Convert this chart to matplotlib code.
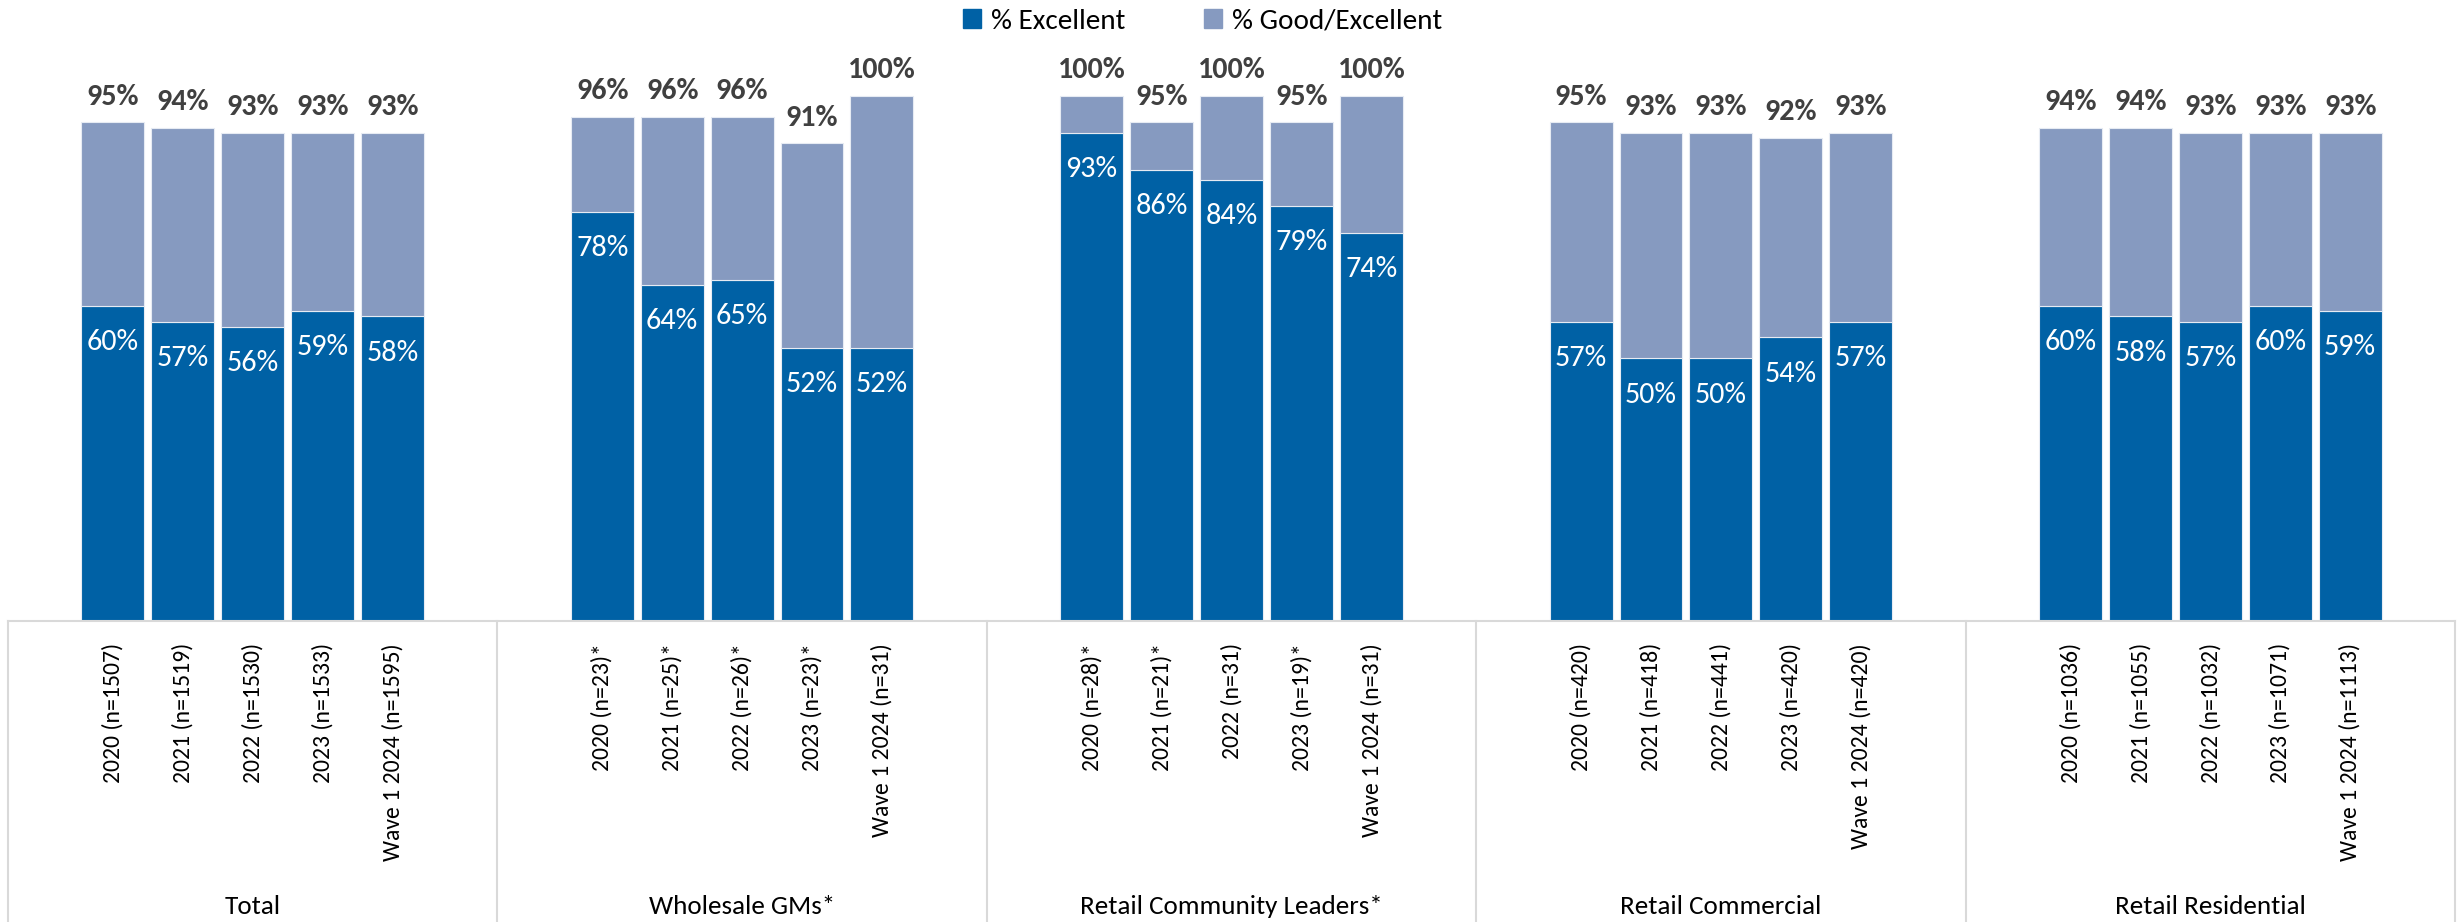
import numpy as np
import matplotlib
matplotlib.use("Agg")
import matplotlib.pyplot as plt
from matplotlib.patches import Patch
from matplotlib import font_manager

# Groupes et vagues d'enquête
groupes = ["Total", "Wholesale GMs*", "Retail Community Leaders*",
           "Retail Commercial", "Retail Residential"]

etiquettes = [
    ["2020 (n=1507)", "2021 (n=1519)", "2022 (n=1530)", "2023 (n=1533)", "Wave 1 2024 (n=1595)"],
    ["2020 (n=23)*", "2021 (n=25)*", "2022 (n=26)*", "2023 (n=23)*", "Wave 1 2024 (n=31)"],
    ["2020 (n=28)*", "2021 (n=21)*", "2022 (n=31)", "2023 (n=19)*", "Wave 1 2024 (n=31)"],
    ["2020 (n=420)", "2021 (n=418)", "2022 (n=441)", "2023 (n=420)", "Wave 1 2024 (n=420)"],
    ["2020 (n=1036)", "2021 (n=1055)", "2022 (n=1032)", "2023 (n=1071)", "Wave 1 2024 (n=1113)"],
]

# % Excellent
excellent = [
    [60, 57, 56, 59, 58],
    [78, 64, 65, 52, 52],
    [93, 86, 84, 79, 74],
    [57, 50, 50, 54, 57],
    [60, 58, 57, 60, 59],
]

# % Good/Excellent (total)
bon_excellent = [
    [95, 94, 93, 93, 93],
    [96, 96, 96, 91, 100],
    [100, 95, 100, 95, 100],
    [95, 93, 93, 92, 93],
    [94, 94, 93, 93, 93],
]

BLEU = "#0061A5"
BLEU_CLAIR = "#869AC0"
GRIS_TEXTE = "#404040"
GRIS_LIGNE = "#D9D9D9"

# police proche de Calibri si dispo, sinon Lato (réduite)
installees = {f.name for f in font_manager.fontManager.ttflist}
if "Carlito" in installees:
    POLICE, k = "Carlito", 1.0
else:
    POLICE, k = "Lato", 0.9
plt.rcParams["font.family"] = [POLICE, "DejaVu Sans"]

fig = plt.figure(figsize=(24.6, 9.22), dpi=100)
ax = fig.add_axes([8 / 2460, 0.3265, 2447 / 2460, 0.6263])

nb_slots = 7  # 1 vide + 5 barres + 1 vide par groupe
positions, labels = [], []
for g in range(len(groupes)):
    x = np.arange(5) + g * nb_slots + 1
    exc = np.array(excellent[g]) / 100
    tot = np.array(bon_excellent[g]) / 100
    ax.bar(x, exc, width=0.9, color=BLEU, edgecolor="#E6EBF3", linewidth=0.8)
    ax.bar(x, tot - exc, bottom=exc, width=0.9, color=BLEU_CLAIR,
           edgecolor="#E6EBF3", linewidth=0.8)
    for xi, e, t in zip(x, excellent[g], bon_excellent[g]):
        ax.annotate(f"{t}%", (xi, t / 100), xytext=(0, 18.5), textcoords="offset points",
                    ha="center", va="center", fontsize=21.7 * k, fontweight="bold",
                    color=GRIS_TEXTE)
        ax.annotate(f"{e}%", (xi, e / 100), xytext=(0, -26), textcoords="offset points",
                    ha="center", va="center", fontsize=21.7 * k, color="white")
    positions.extend(x)
    labels.extend(etiquettes[g])

    # nom du groupe sous les étiquettes
    ax.text(g * nb_slots + 3, -0.495, groupes[g], transform=ax.get_xaxis_transform(),
            ha="center", va="center", fontsize=19.5 * k, color="black")

# séparateurs verticaux de l'axe des catégories
trans = ax.get_xaxis_transform()
for g in range(len(groupes) + 1):
    xb = g * nb_slots - 0.5
    ax.plot([xb, xb], [0, -0.53], transform=trans, color=GRIS_LIGNE,
            linewidth=1.5, clip_on=False)

ax.set_xlim(-0.5, len(groupes) * nb_slots - 0.5)
ax.set_ylim(0, 1.1)
ax.set_xticks(positions)
ax.set_xticklabels(labels, rotation=90, fontsize=17 * k)
ax.tick_params(axis="x", length=0, pad=16)
ax.set_yticks([])
for cote in ["top", "left", "right"]:
    ax.spines[cote].set_visible(False)
ax.spines["bottom"].set_color(GRIS_LIGNE)
ax.spines["bottom"].set_linewidth(1.5)

poignees = [Patch(color=BLEU, label="% Excellent"),
            Patch(color=BLEU_CLAIR, label="% Good/Excellent")]
fig.legend(handles=poignees, loc="center", bbox_to_anchor=(0.489, 0.977), ncol=2,
           frameon=False, prop={"size": 21},
           handlelength=0.62, handleheight=0.62, handletextpad=0.34, columnspacing=2.7)

fig.savefig("out.png", dpi=100)
